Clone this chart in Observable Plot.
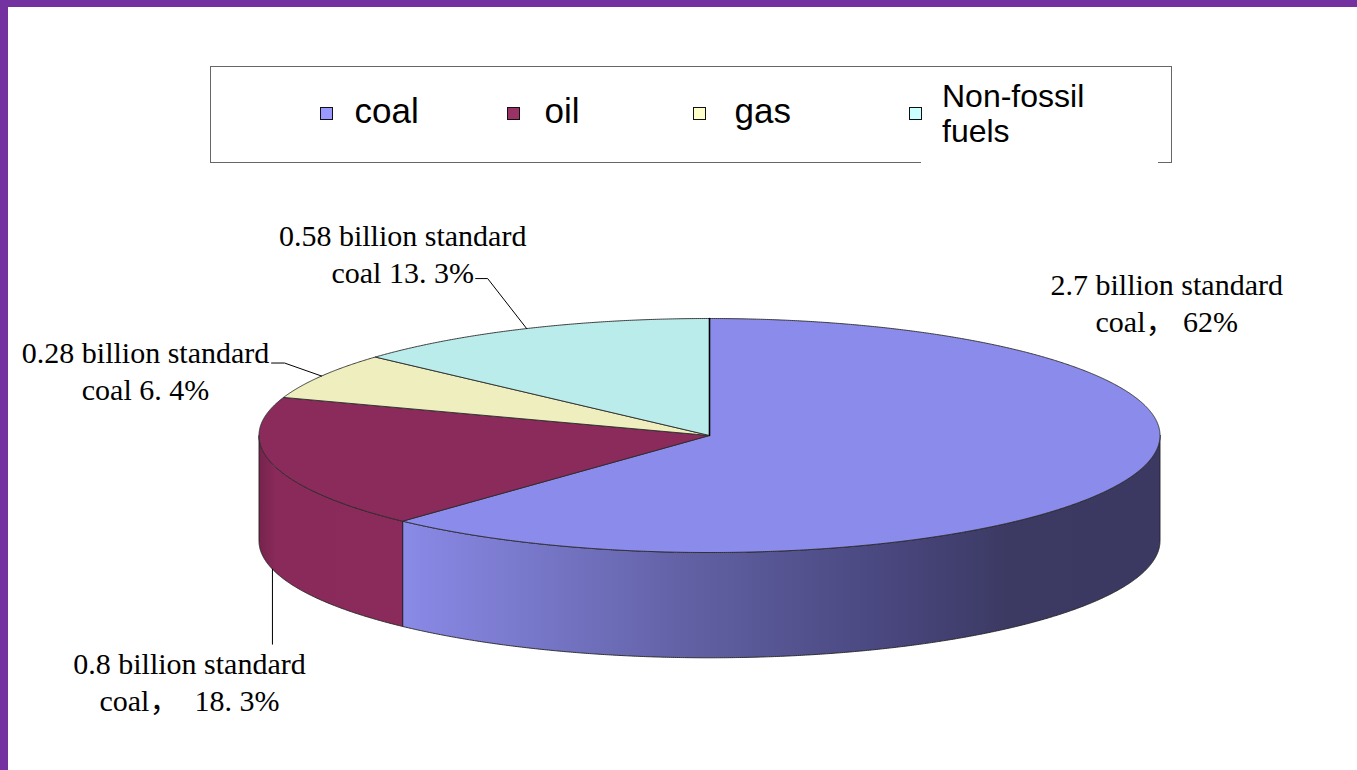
<!DOCTYPE html>
<html>
<head>
<meta charset="utf-8">
<script src="https://cdn.jsdelivr.net/npm/d3@7"></script>
<script src="https://cdn.jsdelivr.net/npm/@observablehq/plot@0.6"></script>
<style>
  html, body { margin: 0; padding: 0; background: #fff; }
  #wrap { position: relative; width: 1357px; height: 770px; overflow: hidden; background: #fff; }
  .bar { position: absolute; background: #7432a0; z-index: 5; }
  #chart { position: absolute; left: 0; top: 0; }
  #legend { position: absolute; left: 210px; top: 66px; width: 960px; height: 95px; border: 1.5px solid #666; z-index: 3; }
  .sw { position: absolute; width: 11px; height: 11px; border: 1.6px solid #111; }
  .lt { position: absolute; font-family: "Liberation Sans", Arial, sans-serif; color: #000; line-height: 35px; white-space: nowrap; }
  #cover { position: absolute; left: 921px; top: 72px; width: 237px; height: 96px; background: #fff; z-index: 4; }
</style>
</head>
<body>
<div id="wrap">
  <div class="bar" style="left:0;top:0;width:1357px;height:7px;"></div>
  <div class="bar" style="left:0;top:0;width:8px;height:770px;"></div>
  <div id="chart"></div>
  <div id="legend"></div>
  <div id="cover"></div>
</div>
<script>
// ---- data ----
const categories = ["coal", "oil", "gas", "Non-fossil fuels"];
const values = [2.7, 0.8, 0.28, 0.58];            // billion tonnes standard coal
const percents = ["62%", "18. 3%", "6. 4%", "13. 3%"];
const labelTexts = [
  "2.7 billion standard\ncoal， 62%",
  "0.8 billion standard\ncoal，  18. 3%",
  "0.28 billion standard\ncoal 6. 4%",
  "0.58 billion standard\ncoal 13. 3%"
];
const legendNames = ["coal", "oil", "gas", "Non-fossil\nfuels"];
const swatchColors = ["#9999ff", "#993366", "#ffffcc", "#ccffff"];
const topColors = ["#8b8beb", "#8b2b5b", "#eeeebf", "#bbecec"];

// ---- layout / style ----
const W = 1357, H = 770;
const depth = 0.9;            // pie thickness in units of the vertical radius
const kx = 450.5, ky = 117;   // px per unit
const margins = {marginLeft: 709 - kx, marginRight: W - 709 - kx, marginTop: 318, marginBottom: H - 318 - ky * (2 + depth)};
// label placement offsets (px) relative to the slice's mid-angle rim point
const labelOffsets = [[38, -177], [-83, 217], [-176, -6], [-124, -76]];
// leader line offsets (px): list of points relative to rim point; 'bottom' starts from the side bottom
const leaders = [
  null,
  {bottom: true, pts: [[0, 0], [0, 75]]},
  {bottom: false, pts: [[0, 0], [-37, -13], [-50, -13]]},
  {bottom: false, pts: [[0, 0], [-39, -50], [-51, -50]]}
];

const arcs = d3.pie().sort(null).value(d => d)(values);
const step = Math.PI / 720;
function arcPts(a0, a1) {
  const n = Math.max(2, Math.ceil((a1 - a0) / step));
  return d3.range(n + 1).map(i => a0 + (a1 - a0) * i / n);
}

// top faces
const topData = [];
arcs.forEach((a, i) => {
  const pts = [[0, 0], ...arcPts(a.startAngle, a.endAngle).map(t => [Math.sin(t), Math.cos(t)]), [0, 0]];
  pts.forEach(([x, y]) => topData.push({cat: categories[i], x, y}));
});

// side faces (front half only)
const sides = [];
arcs.forEach((a, i) => {
  const a0 = Math.max(a.startAngle, Math.PI / 2), a1 = Math.min(a.endAngle, 3 * Math.PI / 2);
  if (a1 <= a0) return;
  const ts = arcPts(a0, a1);
  const pts = [
    ...ts.map(t => ({x: Math.sin(t), y: Math.cos(t)})),
    ...ts.slice().reverse().map(t => ({x: Math.sin(t), y: Math.cos(t) - depth})),
  ];
  pts.push(pts[0]);
  sides.push({i, pts});
});

// labels and leaders
const labelData = arcs.map((a, i) => {
  const m = (a.startAngle + a.endAngle) / 2;
  const rx = Math.sin(m), ry = Math.cos(m);
  return {text: labelTexts[i], x: rx + labelOffsets[i][0] / kx, y: ry - labelOffsets[i][1] / ky};
});
const leaderData = [];
arcs.forEach((a, i) => {
  const L = leaders[i];
  if (!L) return;
  const m = (a.startAngle + a.endAngle) / 2;
  const rx = Math.sin(m), ry = Math.cos(m) - (L.bottom ? depth : 0);
  L.pts.forEach(([dx, dy]) => leaderData.push({k: i, x: rx + dx / kx, y: ry - dy / ky}));
});

const sideGrad = [
  [[0, "#8a8ae8"], [0.39, "#605fa2"], [0.66, "#47457b"], [0.8, "#3c3a63"], [1, "#3b3961"]],
  [[0, "#76234d"], [0.12, "#8a2a5a"], [1, "#8b2b5b"]]
];

// boundary between coal and non-fossil at 12 o'clock is drawn darker
const seam = [{x: 0, y: 0}, {x: 0, y: 1}];

const plot = Plot.plot({
  width: W, height: H, ...margins,
  x: {domain: [-1, 1], axis: null},
  y: {domain: [-1 - depth, 1], axis: null},
  color: {domain: categories, range: topColors},
  style: {background: "transparent", overflow: "visible"},
  marks: [
    ...sides.map(s => Plot.line(s.pts, {x: "x", y: "y", fill: `url(#side-${s.i})`, stroke: "#222", strokeWidth: 0.9, strokeLinejoin: "round"})),
    Plot.line(topData, {x: "x", y: "y", z: "cat", fill: "cat", stroke: "#2a2a2a", strokeWidth: 0.9, strokeLinejoin: "round"}),
    Plot.line(seam, {x: "x", y: "y", stroke: "#000", strokeWidth: 1.6}),
    Plot.line(leaderData, {x: "x", y: "y", z: "k", stroke: "#000", strokeWidth: 1}),
    Plot.text(labelData, {x: "x", y: "y", text: "text", fontFamily: "'Liberation Serif', 'Times New Roman', 'Noto Sans CJK SC', serif", fontSize: 30, lineHeight: 1.23, fill: "#000"})
  ]
});
const defs = d3.select(plot).insert("defs", ":first-child");
sides.forEach(s => {
  const g = defs.append("linearGradient").attr("id", `side-${s.i}`).attr("x1", 0).attr("x2", 1).attr("y1", 0).attr("y2", 0);
  sideGrad[s.i === 0 ? 0 : 1].forEach(([o, c]) => g.append("stop").attr("offset", o).attr("stop-color", c));
});
document.getElementById("chart").appendChild(plot);

// ---- legend ----
const legend = document.getElementById("legend");
const cover = document.getElementById("cover");
const swX = [320, 507, 693, 909];
const txX = [355, 545, 735, 942];
categories.forEach((c, i) => {
  const sw = document.createElement("div");
  sw.className = "sw";
  sw.style.background = swatchColors[i];
  sw.style.left = (swX[i] - 211.5) + "px";
  sw.style.top = (107 - 67.5) + "px";
  legend.appendChild(sw);
  if (i < 3) {
    const t = document.createElement("div");
    t.className = "lt";
    t.style.fontSize = "35px";
    t.textContent = legendNames[i];
    t.style.left = (txX[i] - 211.5) + "px";
    t.style.top = (93 - 67.5) + "px";
    legend.appendChild(t);
  } else {
    const t = document.createElement("div");
    t.className = "lt";
    t.style.fontSize = "32px";
    t.innerHTML = legendNames[i].split("\n").join("<br>");
    t.style.left = (txX[i] - 921) + "px";
    t.style.top = (78.5 - 72) + "px";
    cover.appendChild(t);
    const s2 = sw.cloneNode();
    s2.style.left = (swX[i] - 921) + "px";
    s2.style.top = (107 - 72) + "px";
    cover.appendChild(s2);
    legend.removeChild(sw);
  }
});
</script>
</body>
</html>
